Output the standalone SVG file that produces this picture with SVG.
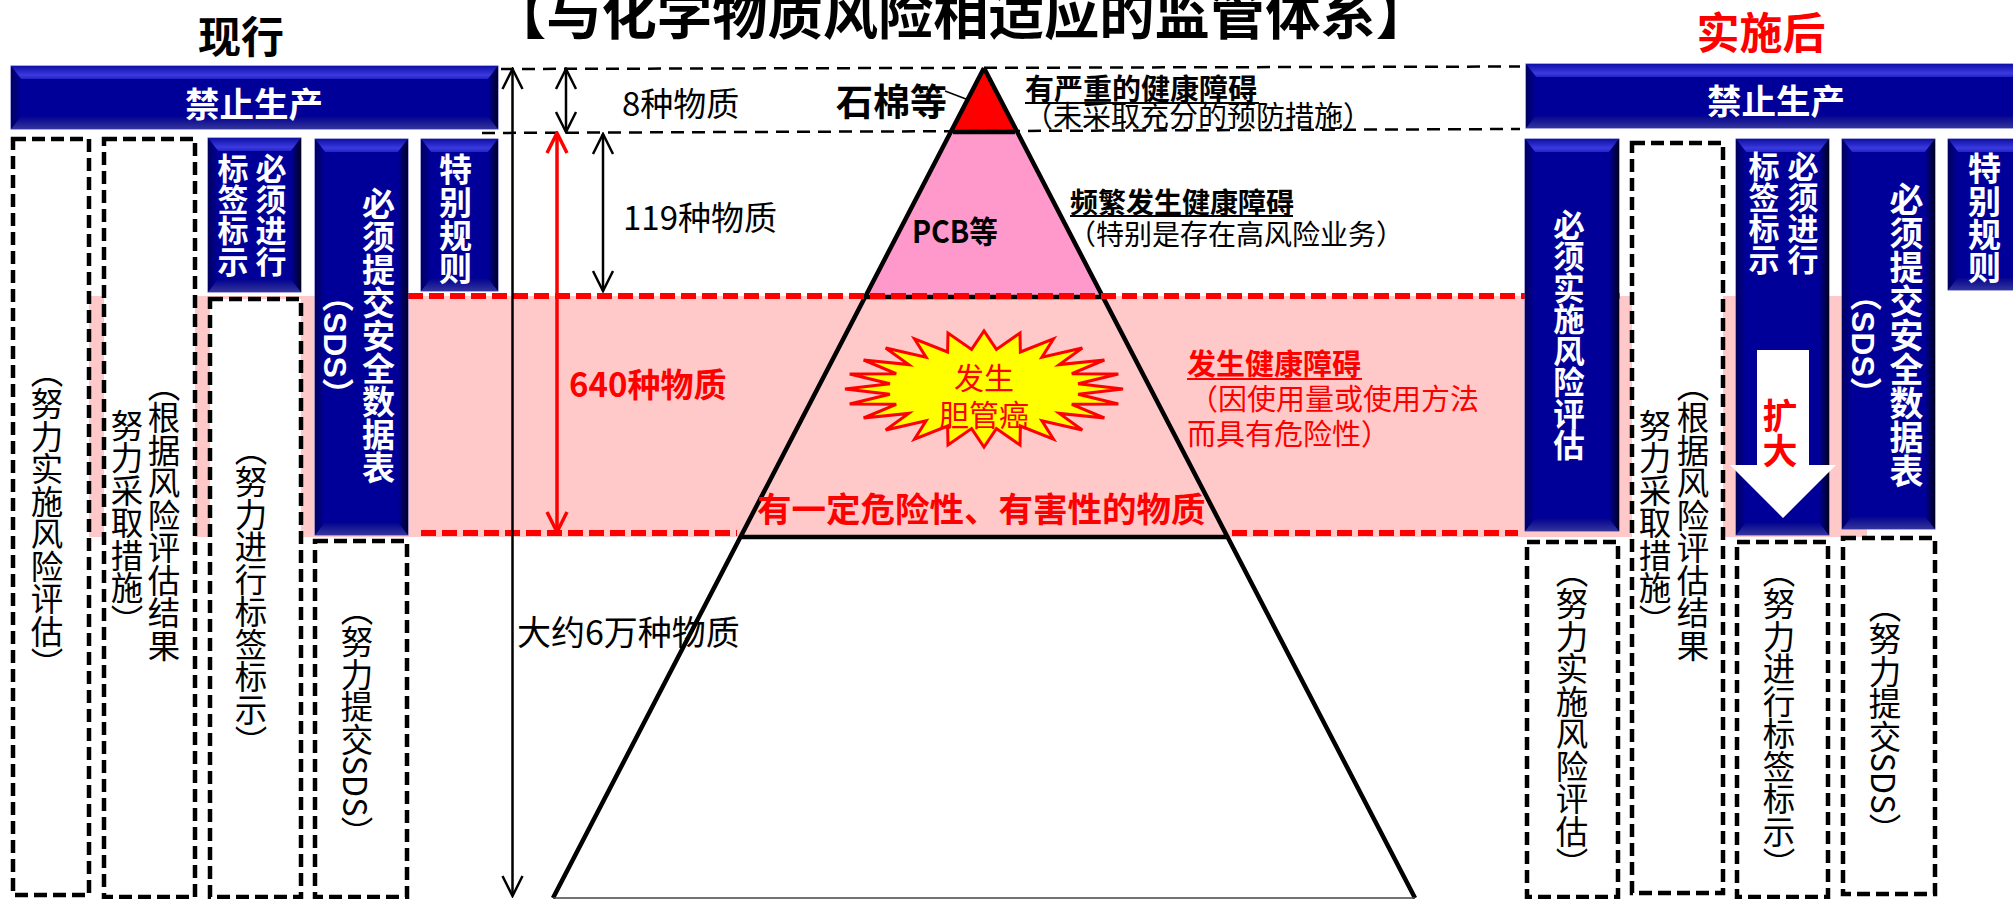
<svg xmlns="http://www.w3.org/2000/svg" width="2013" height="899" viewBox="0 0 2013 899" lang="zh-CN">
<style>
text{font-family:"Noto Sans CJK SC","Noto Sans",sans-serif}
.v{writing-mode:vertical-rl}
.d{font-size:32.500px;fill:#000}
text.w{font-family:"Liberation Sans","Noto Sans CJK SC",sans-serif;font-size:32px;fill:#fff;font-weight:bold}
.dash{fill:#fff;stroke:#000;stroke-width:4.500;stroke-dasharray:13 6}
.base{fill:#000099;stroke:#5555bb;stroke-width:1}
.t{fill:url(#bt)}.b{fill:url(#bb)}.l{fill:url(#bl)}.r{fill:url(#br)}
.k{stroke:#000;stroke-width:2.500;fill:none}
.kd{stroke:#000;stroke-width:2.500;stroke-dasharray:13 8;fill:none}
.rd{stroke:#f00;stroke-width:6;stroke-dasharray:15 6;fill:none}
.m{font-size:33px;fill:#000}
.red{fill:#f00}
.bold{font-weight:bold}
.u{stroke-width:2;fill:none}
</style>
<defs>
<linearGradient id="bt" x1="0" y1="0" x2="0" y2="1"><stop offset="0" stop-color="#0f0fa6"/><stop offset=".7" stop-color="#3a3ae0"/><stop offset="1" stop-color="#2424c4"/></linearGradient>
<linearGradient id="bb" x1="0" y1="0" x2="0" y2="1"><stop offset="0" stop-color="#000090"/><stop offset="1" stop-color="#34349c"/></linearGradient>
<linearGradient id="bl" x1="0" y1="0" x2="1" y2="0"><stop offset="0" stop-color="#000060"/><stop offset="1" stop-color="#000099"/></linearGradient>
<linearGradient id="br" x1="0" y1="0" x2="1" y2="0"><stop offset="0" stop-color="#000099"/><stop offset="1" stop-color="#000020"/></linearGradient>
<marker id="ak" markerUnits="userSpaceOnUse" markerWidth="24" markerHeight="26" viewBox="-22 -12 24 24" refX="0" refY="0" orient="auto-start-reverse"><path d="M-20,-10L0,0L-20,10" fill="none" stroke="#000" stroke-width="2.500"/></marker>
<marker id="ar" markerUnits="userSpaceOnUse" markerWidth="24" markerHeight="26" viewBox="-22 -12 24 24" refX="0" refY="0" orient="auto-start-reverse"><path d="M-20,-10L0,0L-20,10" fill="none" stroke="#f00" stroke-width="3.500"/></marker>
</defs>
<rect id="band" x="89" y="296" width="1778" height="241" fill="#ffc9c9"/>

<g id="title"><text x="961" y="34" text-anchor="middle" font-size="55.300" font-weight="bold">【与化学物质风险相适应的监管体系】</text></g>
<g id="head-current"><text x="241" y="53" text-anchor="middle" font-size="43" font-weight="bold">现行</text></g>
<g id="head-after"><text x="1761" y="49" text-anchor="middle" font-size="43" font-weight="bold" fill="#f00">实施后</text></g>

<g id="pyramid">
<polygon points="984,68 1015,132 953,132" fill="#f00"/>
<polygon points="953,132 1015,132 1103,296 866,296" fill="#ff99cc"/>
<polygon points="741,536 1228,536 1415,898 553,898" fill="#fff"/>
<path d="M984,68L553,898M984,68L1415,898M953,132H1015M866,297H1103M741,537H1228" stroke="#000" stroke-width="4.500" fill="none"/>
<path d="M553,898H1415" stroke="#444" stroke-width="1.500"/>
</g>

<g id="connectors">
<path class="kd" d="M501,69L1520,66.500"/>
<path class="kd" d="M482,133L1520,129"/>
<path class="rd" d="M408,296H1625"/>
<path class="rd" d="M421,533H737M1232,533H1518"/>
<path class="k" d="M512.500,69V896" marker-start="url(#ak)" marker-end="url(#ak)"/>
<path class="k" d="M566,69V132" marker-start="url(#ak)" marker-end="url(#ak)"/>
<path class="k" d="M603,134V291" marker-start="url(#ak)" marker-end="url(#ak)"/>
<path class="k" style="stroke:#f00;stroke-width:3.500" d="M557,133V532" marker-start="url(#ar)" marker-end="url(#ar)"/>
<path d="M945,91L966,99" stroke="#000" stroke-width="1.500"/>
</g>

<g id="pyr-labels">
<text class="m" x="622" y="116">8种物质</text>
<text class="m" x="623" y="230">119种物质</text>
<text class="m" x="517" y="645" style="font-size:34px">大约6万种物质</text>
<text class="red bold" x="569" y="397" font-size="33">640种物质</text>
<text class="bold" x="836" y="116" font-size="37">石棉等</text>
<text class="bold" x="912" y="243" font-size="31" textLength="86" lengthAdjust="spacingAndGlyphs">PCB等</text>
<text class="bold" x="1025" y="100" font-size="29">有严重的健康障碍</text>
<path d="M1025,103H1259" class="u" stroke="#000"/>
<text x="1024" y="127" font-size="29">（未采取充分的预防措施）</text>
<text class="bold" x="1070" y="213" font-size="28">频繁发生健康障碍</text>
<path d="M1070,216H1293" class="u" stroke="#000"/>
<text x="1068" y="245" font-size="28">（特别是存在高风险业务）</text>
<text class="red bold" x="1187" y="375" font-size="29">发生健康障碍</text>
<path d="M1187,379H1362" class="u" stroke="#f00"/>
<text class="red" x="1189" y="410" font-size="29">（因使用量或使用方法</text>
<text class="red" x="1187" y="445" font-size="29">而具有危险性）</text>
<text class="red bold" x="757" y="522" font-size="34.500">有一定危险性、有害性的物质</text>
</g>

<g id="burst">
<polygon transform="translate(984,389)" fill="#ff0" stroke="#f00" stroke-width="3" points="139,0 94.100,5.200 134.300,15 87.800,15.300 120.400,29 75.300,24.400 98.300,41 57.900,31.700 69.500,50.200 36.400,37 36,56 12.400,39.600 0,58 -12.400,39.600 -36,56 -36.400,37 -69.500,50.200 -57.900,31.700 -98.300,41 -75.300,24.400 -120.400,29 -87.800,15.300 -134.300,15 -94.100,5.200 -139,0 -94.100,-5.200 -134.300,-15 -87.800,-15.300 -120.400,-29 -75.300,-24.400 -98.300,-41 -57.900,-31.700 -69.500,-50.200 -36.400,-37 -36,-56 -12.400,-39.600 0,-58 12.400,-39.600 36,-56 36.400,-37 69.500,-50.200 57.900,-31.700 98.300,-41 75.300,-24.400 120.400,-29 87.800,-15.300 134.300,-15 94.100,-5.200"/>
<text class="red" x="984" y="389" text-anchor="middle" font-size="30">发生</text>
<text class="red" x="984" y="426" text-anchor="middle" font-size="30">胆管癌</text>
</g>

<g id="l-ban"><rect class="base" x="11" y="66" width="487" height="63"/>
<polygon class="t" points="11,66 498,66 488,79 21,79"/><polygon class="b" points="11,129 498,129 488,116 21,116"/><polygon class="l" points="11,66 21,79 21,116 11,129"/><polygon class="r" points="488,79 498,66 498,129 488,116"/>
<text x="254" y="117" text-anchor="middle" font-size="34.500" font-weight="bold" fill="#fff">禁止生产</text></g>
<g id="l-risk"><rect class="dash" x="13" y="139" width="76" height="756"/><text class="v d" x="47" y="355">（努力实施风险评估）</text></g>
<g id="l-measure"><rect class="dash" x="104" y="139" width="91" height="758"/><text class="v d" x="164" y="369">（根据风险评估结果</text><text class="v d" x="127" y="409">努力采取措施）</text></g>
<g id="l-label"><rect class="base" x="208" y="138" width="93" height="154"/>
<polygon class="t" points="208,138 301,138 291,151 218,151"/><polygon class="b" points="208,292 301,292 291,279 218,279"/><polygon class="l" points="208,138 218,151 218,279 208,292"/><polygon class="r" points="291,151 301,138 301,292 291,279"/>
<text class="v w" x="268" y="153" style="font-size:31px">必须进行</text><text class="v w" x="230" y="153" style="font-size:31px">标签标示</text></g>
<g id="l-label2"><rect class="dash" x="210" y="299" width="91" height="598"/><text class="v d" x="251" y="433">（努力进行标签标示）</text></g>
<g id="l-sds"><rect class="base" x="315" y="139" width="93" height="396"/>
<polygon class="t" points="315,139 408,139 398,152 325,152"/><polygon class="b" points="315,535 408,535 398,522 325,522"/><polygon class="l" points="315,139 325,152 325,522 315,535"/><polygon class="r" points="398,152 408,139 408,535 398,522"/>
<text class="v w" x="376" y="187" style="font-size:33px">必须提交安全数据表</text><text class="v w" x="335" y="280">（SDS）</text></g>
<g id="l-sds2"><rect class="dash" x="315" y="541" width="92" height="356"/><text class="v d" x="357" y="593">（努力提交SDS）</text></g>
<g id="l-special"><rect class="base" x="421" y="139" width="77" height="152"/>
<polygon class="t" points="421,139 498,139 488,152 431,152"/><polygon class="b" points="421,291 498,291 488,278 431,278"/><polygon class="l" points="421,139 431,152 431,278 421,291"/><polygon class="r" points="488,152 498,139 498,291 488,278"/>
<text class="v w" x="453" y="153" style="font-size:33px">特别规则</text></g>

<g id="r-ban"><rect class="base" x="1526" y="64" width="514" height="64"/>
<polygon class="t" points="1526,64 2040,64 2030,77 1536,77"/><polygon class="b" points="1526,128 2040,128 2030,115 1536,115"/><polygon class="l" points="1526,64 1536,77 1536,115 1526,128"/>
<text x="1776" y="114" text-anchor="middle" font-size="34.500" font-weight="bold" fill="#fff">禁止生产</text></g>
<g id="r-risk"><rect class="base" x="1525" y="139" width="94" height="392"/>
<polygon class="t" points="1525,139 1619,139 1609,152 1535,152"/><polygon class="b" points="1525,531 1619,531 1609,518 1535,518"/><polygon class="l" points="1525,139 1535,152 1535,518 1525,531"/><polygon class="r" points="1609,152 1619,139 1619,531 1609,518"/>
<text class="v w" x="1566" y="209" style="font-size:31.500px">必须实施风险评估</text></g>
<g id="r-risk2"><rect class="dash" x="1527" y="542" width="91" height="355"/><text class="v d" x="1572" y="555">（努力实施风险评估）</text></g>
<g id="r-measure"><rect class="dash" x="1632" y="143" width="91" height="750"/><text class="v d" x="1693" y="369">（根据风险评估结果</text><text class="v d" x="1655" y="409">努力采取措施）</text></g>
<g id="r-label"><rect class="base" x="1736" y="139" width="93" height="396"/>
<polygon class="t" points="1736,139 1829,139 1819,152 1746,152"/><polygon class="b" points="1736,535 1829,535 1819,522 1746,522"/><polygon class="l" points="1736,139 1746,152 1746,522 1736,535"/><polygon class="r" points="1819,152 1829,139 1829,535 1819,522"/>
<text class="v w" x="1800" y="151" style="font-size:31px">必须进行</text><text class="v w" x="1761" y="151" style="font-size:31px">标签标示</text>
<polygon points="1757,350 1809,350 1809,465 1836,465 1783,518 1730,465 1757,465" fill="#fff"/>
<text class="v red bold" x="1780" y="398" font-size="35">扩大</text></g>
<g id="r-label2"><rect class="dash" x="1737" y="542" width="91" height="355"/><text class="v d" x="1779" y="555">（努力进行标签标示）</text></g>
<g id="r-sds"><rect class="base" x="1842" y="139" width="93" height="390"/>
<polygon class="t" points="1842,139 1935,139 1925,152 1852,152"/><polygon class="b" points="1842,529 1935,529 1925,516 1852,516"/><polygon class="l" points="1842,139 1852,152 1852,516 1842,529"/><polygon class="r" points="1925,152 1935,139 1935,529 1925,516"/>
<text class="v w" x="1904" y="182" style="font-size:34px">必须提交安全数据表</text><text class="v w" x="1863" y="279">（SDS）</text></g>
<g id="r-sds2"><rect class="dash" x="1843" y="538" width="92" height="356"/><text class="v d" x="1885" y="590">（努力提交SDS）</text></g>
<g id="r-special"><rect class="base" x="1948" y="139" width="92" height="151"/>
<polygon class="t" points="1948,139 2040,139 2030,152 1958,152"/><polygon class="b" points="1948,290 2040,290 2030,277 1958,277"/><polygon class="l" points="1948,139 1958,152 1958,277 1948,290"/>
<text class="v w" x="1982" y="152" style="font-size:33px">特别规则</text></g>
</svg>
